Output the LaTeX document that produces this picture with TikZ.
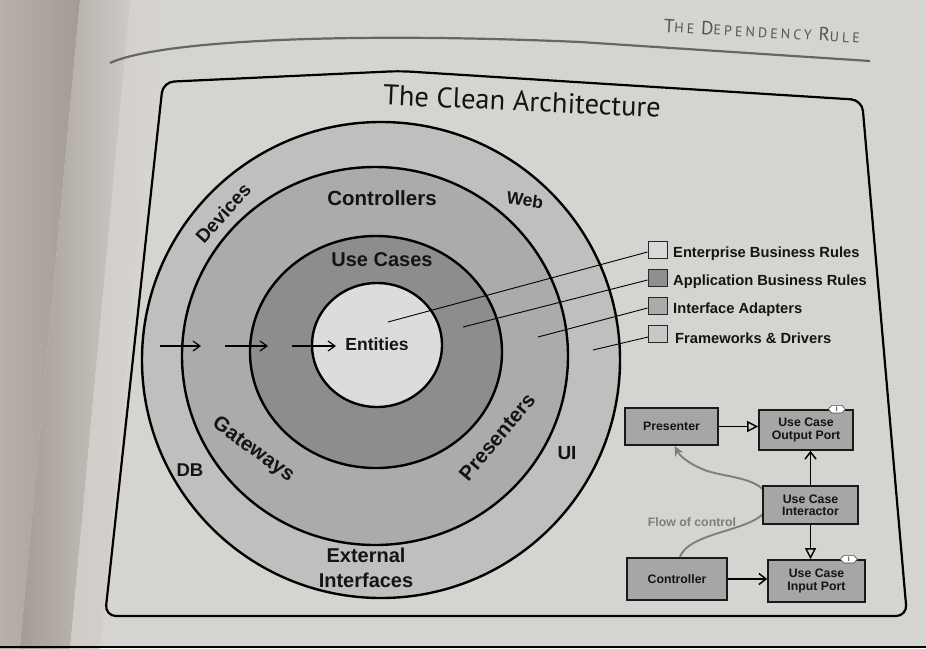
\documentclass[tikz,border=0pt]{standalone}
\usepackage{fontspec}
\setmainfont{Liberation Sans}
\newfontfamily\titlefont{PT Sans}
\newfontfamily\headfont[LetterSpace=22]{PT Sans}
\usetikzlibrary{arrows.meta,calc}
\definecolor{paper}{HTML}{D6D4D1}
\definecolor{gutterA}{HTML}{C9C3BD}
\definecolor{gutterB}{HTML}{A39B93}
\definecolor{gutterC}{HTML}{CFCBC7}
\definecolor{ringA}{HTML}{C0BFBD}
\definecolor{ringB}{HTML}{ABABAB}
\definecolor{ringC}{HTML}{8D8D8D}
\definecolor{ringD}{HTML}{DCDCDC}
\definecolor{lgA}{HTML}{D9D9D9}
\definecolor{lgB}{HTML}{8F8F8F}
\definecolor{lgC}{HTML}{ABABAB}
\definecolor{lgD}{HTML}{C8C8C8}
\definecolor{classfill}{HTML}{A6A6A6}
\definecolor{flowgray}{HTML}{7E7E7E}
\definecolor{headgray}{HTML}{555555}
\newcommand{\myfs}[1]{\fontsize{#1}{#1}\selectfont}
\tikzset{
  ring/.style={draw=black, line width=2.4pt},
  clabel/.style={font=\bfseries\myfs{#1}, inner sep=0pt, text=black!92},
  cbarb/.style={line width=1.2pt, -{Straight Barb[length=7pt,width=10pt,line width=1.2pt]}},
  lgbox/.style={draw=black!85, line width=0.9pt, minimum width=19pt, minimum height=17pt, inner sep=0pt},
  lgtext/.style={font=\bfseries\myfs{14.7}, anchor=west, inner sep=0pt, text=black!92},
  lgline/.style={draw=black, line width=0.9pt},
  classbox/.style={draw=black!90, line width=1.7pt, fill=classfill, inner sep=0pt, align=center,
     font=\bfseries\myfs{12.3}, text=black!92},
  realize/.style={line width=1.8pt, -{Triangle[open,length=11pt,width=11pt,line width=1.4pt]}},
  navig/.style={line width=1.8pt, -{Straight Barb[length=7pt,width=11pt,line width=1.5pt]}},
  flow/.style={draw=flowgray, line width=1.9pt, -{Stealth[length=10pt,width=9pt]}},
  itabstyle/.style={font=\bfseries\myfs{6.5}, inner sep=0pt, text=black!70}
}
\newcommand{\itabat}[2]{%
  \begin{scope}[shift={(#1)}]
    \draw[fill=white, draw=black!70, line width=0.6pt]
      (-8.5,0) -- (-5,3.8) -- (5,3.8) -- (8.5,0) -- (5,-3.8) -- (-5,-3.8) -- cycle;
    \node[itabstyle] (#2) at (0,0) {I};
  \end{scope}}
\begin{document}
\begin{tikzpicture}[x=1pt,y=1pt]
\useasboundingbox (0,0) rectangle (926,-648);
% paper
\fill[paper] (0,0) rectangle (926,-648);
\begin{scope}[shift={(55,-324)}, rotate=-5.3]
  \shade[left color=gutterA, right color=gutterB] (-90,-360) rectangle (-5,360);
  \shade[left color=gutterB, right color=gutterC] (-5,-360) rectangle (45,360);
  \shade[left color=gutterC, right color=paper] (45,-360) rectangle (75,360);
\end{scope}
\fill[black] (0,-646) rectangle (926,-648);
% running header
\draw[headgray!90, line width=2.2pt] (110,-63) .. controls (160,-40) and (350,-32) .. (580,-42) -- (870,-61);
\node[text=headgray, inner sep=0pt, rotate=-3.2, font=\headfont] (header) at (762,-31)
  {\myfs{19}T\myfs{14}HE \myfs{19}D\myfs{14}EPENDENCY \myfs{19}R\myfs{14}ULE};
% frame
\draw[black, line width=2.2pt, rounded corners=11pt]
  (105,-616) -- (163,-82) -- (400,-71) -- (862,-100) -- (907,-616) -- cycle;
\node[inner sep=0pt, rotate=-2.6, font=\titlefont\myfs{28.5}, text=black!92] (title) at (522,-101) {The Clean Architecture};
% circles
\coordinate (c1) at (381,-360);
\coordinate (c2) at (375,-356);
\coordinate (c3) at (376,-352);
\coordinate (c4) at (377,-345);
\draw[ring, fill=ringA] (c1) ellipse [x radius=239, y radius=238];
\draw[ring, fill=ringB] (c2) ellipse [x radius=193, y radius=189];
\draw[ring, fill=ringC] (c3) ellipse [x radius=126, y radius=116];
\draw[ring, fill=ringD] (c4) ellipse [x radius=65, y radius=62];
% circle labels
\node[clabel=17.5] (entities) at (377,-344) {Entities};
\node[clabel=20] (usecases) at (382,-260) {Use Cases};
\node[clabel=20.5] (controllers) at (382,-198) {Controllers};
\node[clabel=17.5, rotate=-8] (web) at (525,-200) {Web};
\node[clabel=19, rotate=48] (devices) at (223,-213) {Devices};
\node[clabel=20.5, rotate=-36] (gateways) at (253,-450) {Gateways};
\node[clabel=20.5, rotate=50] (presenters) at (497,-437) {Presenters};
\node[clabel=18.5] (db) at (190,-470) {DB};
\node[clabel=19] (ui) at (567,-453) {UI};
\node[clabel=20, align=center] (external) at (366,-568) {External\\[5pt]Interfaces};
% dependency arrows
\coordinate (a1s) at (160,-346); \coordinate (a1e) at (201,-346);
\coordinate (a2s) at (225,-346); \coordinate (a2e) at (268,-346);
\coordinate (a3s) at (292,-346); \coordinate (a3e) at (336,-346);
\draw[cbarb] (a1s) -- (a1e);
\draw[cbarb] (a2s) -- (a2e);
\draw[cbarb] (a3s) -- (a3e);
% legend
\node[lgbox, fill=lgA] (lg1) at (657.5,-250) {};
\node[lgbox, fill=lgB] (lg2) at (657.5,-278) {};
\node[lgbox, fill=lgC] (lg3) at (657.5,-306) {};
\node[lgbox, fill=lgD] (lg4) at (658,-334) {};
\node[lgtext] (lt1) at (673,-254) {Enterprise Business Rules};
\node[lgtext] (lt2) at (673,-282) {Application Business Rules};
\node[lgtext] (lt3) at (673,-310) {Interface Adapters};
\node[lgtext] (lt4) at (675,-338) {Frameworks \& Drivers};
\coordinate (p1) at (388,-322);
\coordinate (p2) at (463,-327);
\coordinate (p3) at (538,-337);
\coordinate (p4) at (593,-350);
\draw[lgline] ([yshift=-2pt]lg1.west) -- (p1);
\draw[lgline] ([yshift=-2pt]lg2.west) -- (p2);
\draw[lgline] ([yshift=-2pt]lg3.west) -- (p3);
\draw[lgline] ([yshift=-3pt]lg4.west) -- (p4);
% class diagram
\node[classbox, minimum width=93pt, minimum height=37pt] (pres) at (671.5,-426.5) {Presenter};
\node[classbox, minimum width=100pt, minimum height=42pt] (ctrl) at (677,-579) {Controller};
\draw[flow] ([xshift=3pt]ctrl.north) .. controls (690,-528) and (772,-532) .. (768,-500)
   .. controls (765,-476) and (722,-478) .. (702,-469)
   .. controls (688,-463) and (680,-456) .. ([xshift=3pt]pres.south);
\node[font=\bfseries\myfs{12.3}, text=flowgray, inner sep=0pt] (flowlabel) at (692,-522) {Flow of control};
\node[classbox, minimum width=94pt, minimum height=40pt] (outport) at (806,-430) {Use Case\\Output Port};
\node[classbox, minimum width=95pt, minimum height=38pt] (inter) at (810.5,-505) {Use Case\\Interactor};
\node[classbox, minimum width=97pt, minimum height=42pt] (inport) at (816.5,-581) {Use Case\\Input Port};
\itabat{$(outport.north east)+(-17,0)$}{tab1}
\itabat{$(inport.north east)+(-17,0)$}{tab2}
\draw[realize] (pres.east) -- (pres.east -| outport.west);
\draw[navig] (inter.north) -- (inter.north |- outport.south);
\draw[realize] (inter.south) -- (inter.south |- inport.north);
\draw[navig] (ctrl.east) -- (ctrl.east -| inport.west);
\end{tikzpicture}
\end{document}
